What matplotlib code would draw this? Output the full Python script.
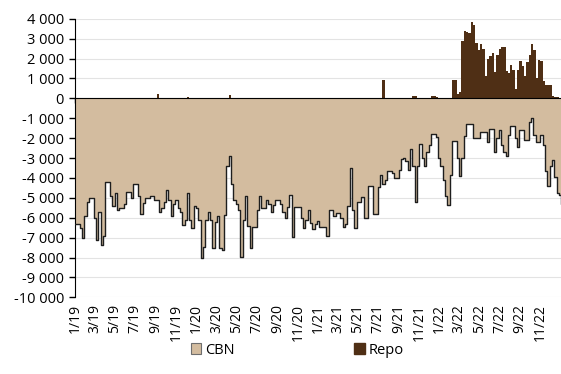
import numpy as np
import pandas as pd
import matplotlib
matplotlib.use("Agg")
import matplotlib.pyplot as plt
from matplotlib.patches import Patch
from matplotlib.ticker import FuncFormatter

# weekly values, NOK million, starting first week of 2019
week_start = "2019-01-01"

cbn = [
    -6300, -6300, -6500, -7000, -5900, -5200, -5000, -5000, -6000, -7100,
    -5700, -7350, -6900, -4200, -4200, -4900, -5400, -4750, -5600, -5500,
    -5500, -5300, -4700, -4700, -5000, -4300, -4300, -4900, -5800, -5250,
    -5000, -5000, -4900, -4900, -5100, -5100, -5700, -5500, -5200, -4600,
    -5100, -5900, -5300, -5100, -5500, -5700, -6350, -6100, -4750, -6100,
    -6500, -5400, -5500, -6100, -8000, -7450, -6100, -5700, -6100, -7500,
    -6200, -5900, -7500, -7600, -5850, -3400, -2900, -4300, -5100, -5300,
    -5600, -7950, -6100, -4900, -6400, -7500, -6450, -6450, -5600, -4900,
    -5500, -5500, -5100, -5300, -5700, -5350, -5100, -5100, -5300, -5700,
    -6000, -5450, -4850, -6950, -5450, -5450, -5450, -6000, -6500, -6100,
    -5600, -6250, -6550, -6300, -6150, -6450, -6450, -6450, -6900, -5600,
    -5600, -5900, -5750, -5750, -6000, -6450, -6300, -5400, -3500, -5600,
    -6500, -5200, -5200, -4950, -6000, -6000, -4400, -4400, -5800, -5800,
    -4450, -3850, -4300, -4100, -3650, -3650, -3750, -4000, -4000, -3600,
    -3050, -3000, -3150, -3600, -2550, -3400, -5200, -3400, -2300, -3000,
    -3400, -2700, -2350, -1800, -1800, -1950, -3000, -3400, -4100, -4900,
    -5350, -3850, -2150, -2150, -3000, -3900, -3000, -1900, -1300, -1300,
    -1300, -2000, -2000, -2000, -1700, -1700, -1700, -2200, -1550, -1550,
    -2700, -2000, -1600, -2350, -2700, -2900, -1850, -1400, -1400, -2000,
    -2450, -1600, -1600, -2100, -2100, -1200, -1000, -1850, -2200, -2200,
    -1850, -2350, -3650, -4400, -3400, -3100, -3950, -4750, -4850, -5300,
]

repo = np.zeros(len(cbn))
repo_weeks = [35, 48, 66, 132, 145, 146, 153, 154, 155, 162, 163, 164, 165,
              166, 167, 168, 169, 170, 171, 172, 173, 174, 175, 176, 177, 178,
              179, 180, 181, 182, 183, 184, 185, 186, 187, 188, 189, 190, 191,
              192, 193, 194, 195, 196, 197, 198, 199, 200, 201, 202, 203, 204,
              205, 206, 207]
repo_vals = [230, 80, 170, 920, 120, 120, 120, 120, 50, 920, 920, 220, 300,
             2870, 3380, 3350, 3300, 3840, 3660, 2790, 2420, 2730, 2460, 1140,
             1950, 2110, 2280, 1310, 2200, 2480, 2580, 2570, 1390, 1280, 1690,
             1440, 470, 1440, 1860, 1610, 1110, 1810, 2200, 2730, 2450, 1020,
             1900, 1860, 860, 690, 650, 650, 100, 70, 70]
repo[repo_weeks] = repo_vals

dates = pd.date_range(week_start, periods=len(cbn), freq="7D")
cbn = np.array(cbn, dtype=float)

tan = "#d3bc9f"
brown = "#4f2f15"

plt.rcParams["font.family"] = ["Open Sans", "DejaVu Sans"]

fig = plt.figure(figsize=(5.61, 3.74), dpi=100)
ax = fig.add_axes([0.134, 0.205, 0.866, 0.745])

xd = np.append(dates.values, dates.values[-1] + np.timedelta64(7, "D"))
yd = np.append(cbn, cbn[-1])
ax.fill_between(xd, yd, 0, step="post", color=tan, linewidth=0, zorder=2)
ax.step(xd, yd, where="post", color="#1e1e1e", lw=1.0, zorder=3)
ax.bar(dates, repo, width=7, align="edge", color=brown, linewidth=0, zorder=2)

ax.set_ylim(-10000, 4000)
ax.set_yticks(np.arange(-10000, 4001, 1000))
ax.yaxis.set_major_formatter(FuncFormatter(lambda v, p: f"{int(v):,}".replace(",", " ")))
ax.yaxis.grid(True, color="#e3e3e3", lw=0.8, zorder=0)
ax.set_axisbelow(True)

ax.set_xlim(pd.Timestamp("2019-01-01"), pd.Timestamp("2023-01-02"))
ticks = pd.date_range("2019-01-01", "2022-11-01", freq="2MS")
ax.set_xticks(ticks)
ax.xaxis.set_major_formatter(FuncFormatter(lambda v, p: ""))
ax.spines["bottom"].set_position(("data", 0))
ax.spines["bottom"].set_zorder(4)
ax.spines["top"].set_visible(False)
ax.spines["right"].set_visible(False)
ax.tick_params(axis="x", length=3.5, width=1, direction="out")
ax.tick_params(axis="y", length=4, width=1, labelsize=10.5, pad=4)

sec = ax.secondary_xaxis("bottom")
sec.set_xticks(ticks)
sec.set_xticklabels([f"{d.month}/{d.strftime('%y')}" for d in ticks], rotation=90, fontsize=10)
sec.tick_params(length=0, pad=5)
sec.spines["bottom"].set_visible(False)

handles = [Patch(facecolor=tan, edgecolor="#6e6e6e", lw=0.8, label="CBN"),
           Patch(facecolor=brown, edgecolor=brown, label="Repo")]
fig.legend(handles=handles, loc="center", bbox_to_anchor=(0.53, 0.064), ncol=2,
           frameon=False, fontsize=10.5, handlelength=0.7, handleheight=0.7,
           handletextpad=0.3, columnspacing=8.2)

fig.savefig("out.png", dpi=100)
